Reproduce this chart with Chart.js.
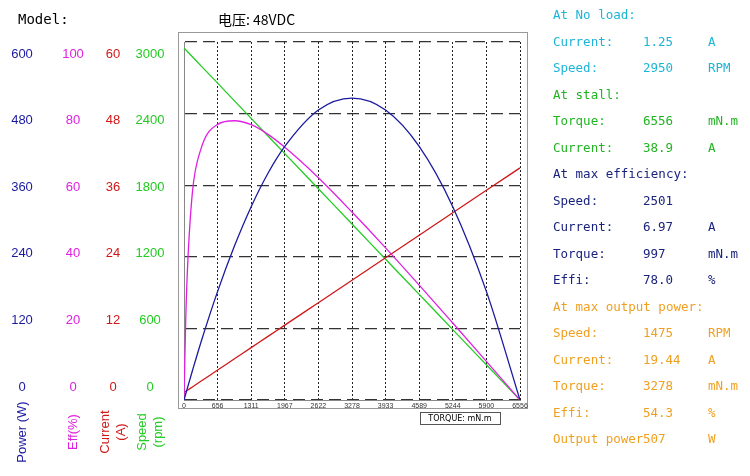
<!DOCTYPE html>
<html>
<head>
<meta charset="utf-8">
<script src="https://cdn.jsdelivr.net/npm/chart.js@4"></script>
<style>
body { margin: 0; background: #fff; }
#wrap { width: 750px; height: 476px; }
</style>
</head>
<body>
<div id="wrap"><canvas id="myChart"></canvas></div>
<script>
// torque (mN.m) sample points
var torque = [0, 33, 66, 164, 328, 656, 984, 1311, 1639, 1967, 2622, 3278, 3933, 4589, 5244, 5900, 6556];
var speed = [2950, 2935, 2920, 2876, 2802, 2655, 2507, 2360, 2212, 2065, 1770, 1475, 1180, 885, 590, 295, 0];
var current = [1.25, 1.44, 1.63, 2.19, 3.13, 5.02, 6.90, 8.78, 10.66, 12.55, 16.31, 20.08, 23.84, 27.61, 31.37, 35.14, 38.9];
var power = [0, 10, 20, 49, 96, 182, 258, 324, 380, 425, 486, 506, 486, 425, 324, 182, 0];
var eff = [0, 22, 36, 58, 70, 77, 78.0, 76.9, 74.2, 70.6, 62.1, 52.5, 42.5, 32.1, 21.5, 10.8, 0];

var xTicks = [0, 656, 1311, 1967, 2622, 3278, 3933, 4589, 5244, 5900, 6556];
var powerTicks = [0, 120, 240, 360, 480, 600];
var effTicks = [0, 20, 40, 60, 80, 100];
var currentTicks = [0, 12, 24, 36, 48, 60];
var speedTicks = [0, 600, 1200, 1800, 2400, 3000];

var infoLines = [
    ['At No load:', '', '', '#1cb5d6'],
    ['Current:', '1.25', 'A', '#1cb5d6'],
    ['Speed:', '2950', 'RPM', '#1cb5d6'],
    ['At stall:', '', '', '#22b422'],
    ['Torque:', '6556', 'mN.m', '#22b422'],
    ['Current:', '38.9', 'A', '#22b422'],
    ['At max efficiency:', '', '', '#1a237e'],
    ['Speed:', '2501', '', '#1a237e'],
    ['Current:', '6.97', 'A', '#1a237e'],
    ['Torque:', '997', 'mN.m', '#1a237e'],
    ['Effi:', '78.0', '%', '#1a237e'],
    ['At max output power:', '', '', '#f0a020'],
    ['Speed:', '1475', 'RPM', '#f0a020'],
    ['Current:', '19.44', 'A', '#f0a020'],
    ['Torque:', '3278', 'mN.m', '#f0a020'],
    ['Effi:', '54.3', '%', '#f0a020'],
    ['Output power', '507', 'W', '#f0a020']
];

function pts(ys) {
    return torque.map(function (t, i) { return { x: t, y: ys[i] }; });
}

var decor = {
    id: 'decor',
    beforeDraw: function (chart) {
        var c = chart.ctx;
        c.save();
        c.strokeStyle = '#999';
        c.lineWidth = 1;
        c.strokeRect(178.5, 32.5, 349, 376);
        c.restore();
    },
    afterDraw: function (chart) {
        var c = chart.ctx;
        var y = chart.scales.y;
        c.save();
        c.font = '14px "DejaVu Sans Mono", monospace';
        c.fillStyle = '#000';
        c.textBaseline = 'middle';
        c.fillText('Model:', 18, 20);
        c.font = '14px "Noto Sans CJK SC", sans-serif';
        c.fillText('电压: 48VDC', 218, 20);
        var cols = [
            [22, powerTicks, '#1a1aa0', ['Power (W)']],
            [73, effTicks, '#e020e0', ['Eff(%)']],
            [113, currentTicks, '#d01818', ['Current', '(A)']],
            [150, speedTicks, '#22cc22', ['Speed', '(rpm)']]
        ];
        c.font = '13px Arial, "Liberation Sans", sans-serif';
        c.textAlign = 'center';
        cols.forEach(function (col) {
            c.fillStyle = col[2];
            col[1].forEach(function (v, i) {
                var py = y.getPixelForValue(powerTicks[i]) - 13 + i * 5;
                c.fillText(String(v), col[0], py);
            });
            c.save();
            c.translate(col[0], 432);
            c.rotate(-Math.PI / 2);
            c.textAlign = 'center';
            col[3].forEach(function (t, k) {
                c.fillText(t, 0, (k - (col[3].length - 1) / 2) * 16);
            });
            c.restore();
        });
        // torque label box
        c.strokeStyle = '#555';
        c.fillStyle = '#fff';
        c.fillRect(420.5, 412.5, 80, 12);
        c.strokeRect(420.5, 412.5, 80, 12);
        c.fillStyle = '#000';
        c.font = '8px "DejaVu Sans", sans-serif';
        c.fillText('TORQUE: mN.m', 460, 419);
        // info panel
        c.textAlign = 'left';
        c.font = '12.5px "DejaVu Sans Mono", monospace';
        infoLines.forEach(function (l, i) {
            var py = 16 + i * 26.5;
            c.fillStyle = l[3];
            c.fillText(l[0], 553, py);
            c.fillText(l[1], 643, py);
            c.fillText(l[2], 708, py);
        });
        c.restore();
    }
};

function initGraph() {
    var data = {
        datasets: [
            { label: 'Power', data: pts(power), yAxisID: 'y', borderColor: '#1a1aa0' },
            { label: 'Eff', data: pts(eff), yAxisID: 'yEff', borderColor: '#e020e0' },
            { label: 'Current', data: pts(current), yAxisID: 'yCur', borderColor: '#d01818' },
            { label: 'Speed', data: pts(speed), yAxisID: 'ySpd', borderColor: '#22cc22' }
        ]
    };
    var config = {
        type: 'line',
        data: data,
        plugins: [decor],
        options: {
            responsive: true,
            maintainAspectRatio: false,
            animation: false,
            layout: { padding: { left: 184, right: 230, top: 42, bottom: 62 } },
            elements: {
                point: { radius: 0 },
                line: { borderWidth: 1.3, cubicInterpolationMode: 'monotone' }
            },
            plugins: { legend: { display: false }, tooltip: { enabled: false } },
            scales: {
                x: {
                    type: 'linear', min: 0, max: 6556,
                    afterBuildTicks: function (s) { s.ticks = xTicks.map(function (v) { return { value: v }; }); },
                    afterFit: function (s) { s.height = 14; },
                    ticks: { font: { size: 7 }, color: '#333', padding: 2, maxRotation: 0, autoSkip: false,
                        callback: function (v) { return String(v); } },
                    grid: { color: '#222', drawTicks: false },
                    border: { color: '#888', dash: [2, 2] }
                },
                y: {
                    min: 0, max: 600,
                    afterBuildTicks: function (s) { s.ticks = powerTicks.map(function (v) { return { value: v }; }); },
                    afterFit: function (s) { s.width = 0; },
                    ticks: { display: false },
                    grid: { color: '#333', lineWidth: 1.2, drawTicks: false },
                    border: { color: '#888', dash: [12, 6] }
                },
                yEff: { display: false, min: 0, max: 100 },
                yCur: { display: false, min: 0, max: 60 },
                ySpd: { display: false, min: 0, max: 3000 }
            }
        }
    };
    new Chart(document.getElementById('myChart'), config);
}
initGraph();
</script>
</body>
</html>
